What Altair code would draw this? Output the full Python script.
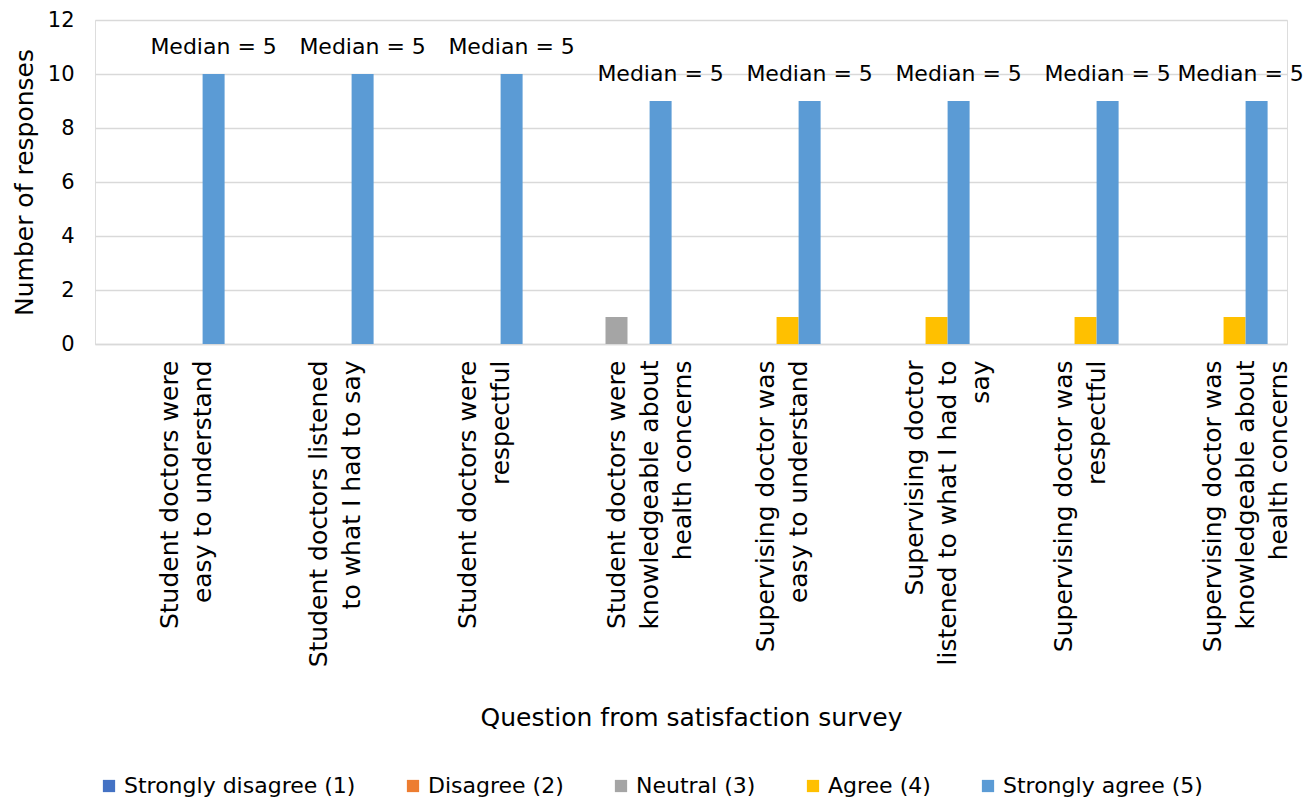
import altair as alt
import pandas as pd

questions = [
    "Student doctors were|easy to understand",
    "Student doctors listened|to what I had to say",
    "Student doctors were|respectful",
    "Student doctors were|knowledgeable about|health concerns",
    "Supervising doctor was|easy to understand",
    "Supervising doctor|listened to what I had to|say",
    "Supervising doctor was|respectful",
    "Supervising doctor was|knowledgeable about|health concerns",
]
responses = [
    "Strongly disagree (1)",
    "Disagree (2)",
    "Neutral (3)",
    "Agree (4)",
    "Strongly agree (5)",
]
colors = ["#4472C4", "#ED7D31", "#A5A5A5", "#FFC000", "#5B9BD5"]

strongly_disagree = [0, 0, 0, 0, 0, 0, 0, 0]
disagree = [0, 0, 0, 0, 0, 0, 0, 0]
neutral = [0, 0, 0, 1, 0, 0, 0, 0]
agree = [0, 0, 0, 0, 1, 1, 1, 1]
strongly_agree = [10, 10, 10, 9, 9, 9, 9, 9]
medians = [5, 5, 5, 5, 5, 5, 5, 5]

series = [strongly_disagree, disagree, neutral, agree, strongly_agree]
rows = []
for resp, vals in zip(responses, series):
    for q, v in zip(questions, vals):
        rows.append({"question": q, "response": resp, "count": v})
df = pd.DataFrame(rows)

labels = pd.DataFrame({
    "question": questions,
    "response": responses[-1],
    "count": strongly_agree,
    "label": [f"Median = {m}" for m in medians],
})

FONT = "DejaVu Sans"

x_enc = alt.X(
    "question:N",
    sort=questions,
    scale=alt.Scale(paddingInner=0.26, paddingOuter=0.13),
    axis=alt.Axis(
        title="Question from satisfaction survey",
        labelAngle=-90,
        labelAlign="right",
        labelBaseline="middle",
        labelExpr="split(datum.label, '|')",
        labelLineHeight=33,
        labelFontSize=25,
        labelPadding=16,
        labelLimit=0,
        labelColor="#000000",
        labelFont=FONT,
        titleFont=FONT,
        titleFontSize=25,
        titleFontWeight="normal",
        titleColor="#000000",
        titleY=373,
        titleBaseline="middle",
        ticks=False,
        domain=True,
        domainColor="#d9d9d9",
        domainWidth=1.5,
        grid=False,
    ),
)
xoff = alt.XOffset("response:N", sort=responses, scale=alt.Scale(paddingInner=0, paddingOuter=0))

y_enc = alt.Y(
    "count:Q",
    scale=alt.Scale(domain=[0, 12]),
    axis=alt.Axis(
        title="Number of responses",
        values=[0, 2, 4, 6, 8, 10, 12],
        labelFontSize=21,
        labelColor="#000000",
        labelFont=FONT,
        labelPadding=21,
        titleFont=FONT,
        titleFontSize=25,
        titleFontWeight="normal",
        titleColor="#000000",
        titlePadding=10,
        ticks=False,
        domain=False,
        gridColor="#d9d9d9",
        gridWidth=1.5,
    ),
)

bars = alt.Chart(df).mark_bar(size=22).encode(
    x=x_enc,
    xOffset=xoff,
    y=y_enc,
    color=alt.Color(
        "response:N",
        sort=responses,
        scale=alt.Scale(domain=responses, range=colors),
        legend=alt.Legend(
            title=None,
            orient="none",
            direction="horizontal",
            legendX=3,
            legendY=755,
            symbolType="square",
            symbolSize=150,
            symbolStrokeWidth=0,
            labelFontSize=22,
            labelFont=FONT,
            labelColor="#000000",
            labelLimit=0,
            columnPadding=46,
            labelOffset=4,
            padding=0,
        ),
    ),
)

# Median labels above the "Strongly agree" bars; the last one is nudged left
# so it stays inside the canvas.
text_base = alt.Chart(labels).encode(
    x=alt.X("question:N", sort=questions),
    xOffset=alt.XOffset("response:N", sort=responses),
    y=alt.Y("count:Q"),
    text="label:N",
)
text_main = text_base.transform_filter(
    alt.FieldOneOfPredicate(field="question", oneOf=questions[:-1])
).mark_text(fontSize=22, font=FONT, color="#000000", baseline="middle", dy=-27)
text_last = text_base.transform_filter(
    alt.FieldEqualPredicate(field="question", equal=questions[-1])
).mark_text(fontSize=22, font=FONT, color="#000000", baseline="middle", dy=-27, dx=-16)

chart = (
    alt.layer(bars, text_main, text_last)
    .properties(
        width=1192,
        height=324,
        autosize=alt.AutoSizeParams(type="none"),
        padding={"left": 95, "top": 20, "right": 25, "bottom": 456},
    )
    .configure_view(stroke=None)
    .configure(background="#ffffff")
)

chart.save("out.html", embed_options={"renderer": "svg", "actions": False})
